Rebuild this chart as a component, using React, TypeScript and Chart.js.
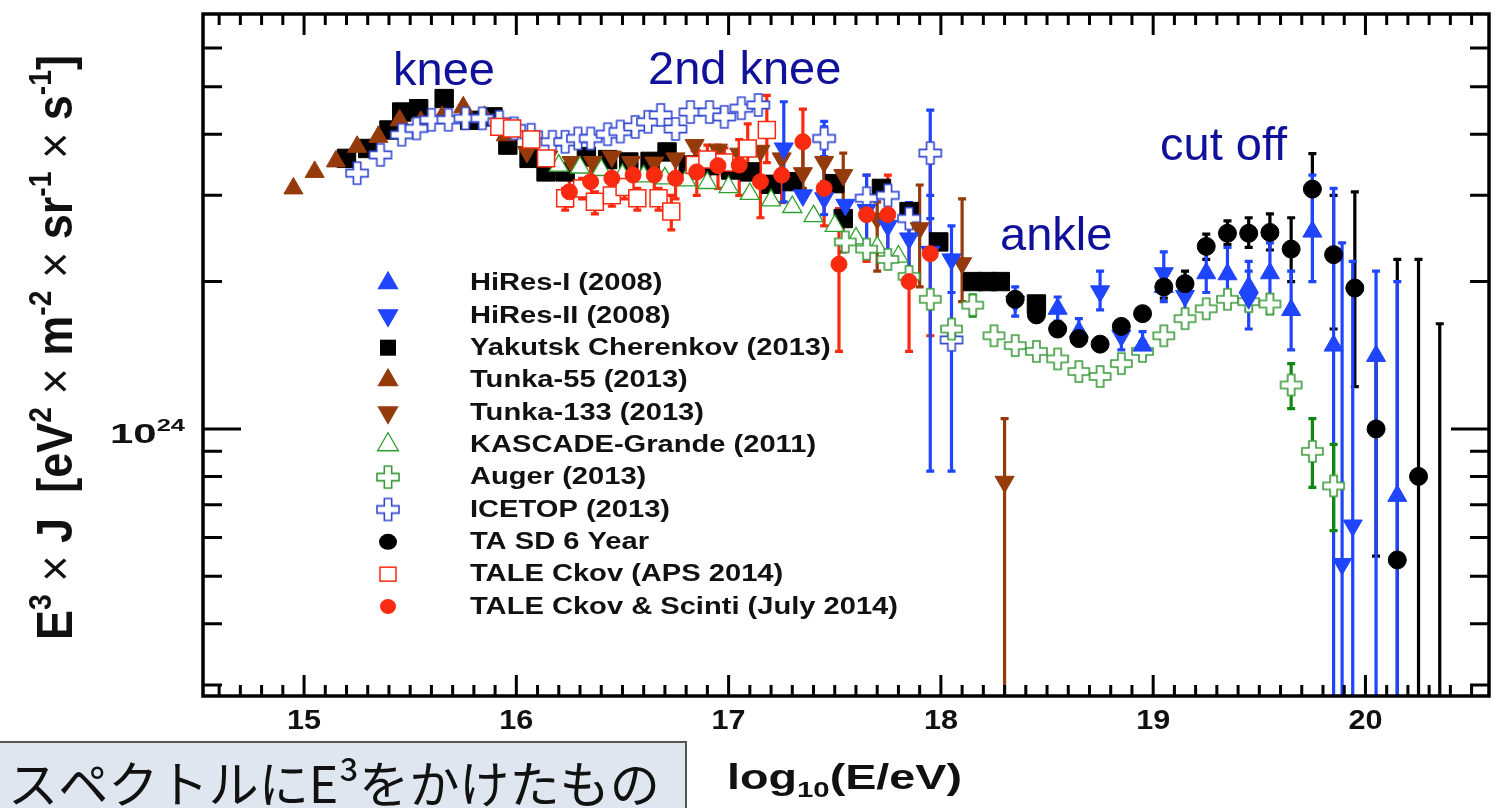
import { useEffect, useRef } from "react";
import { Chart, registerables } from "chart.js";
Chart.register(...registerables);

// x = log10(E/eV), y = E^3 J in units of 1e24 eV^2 m^-2 sr^-1 s^-1
const tunka55X = [14.95, 15.05, 15.15, 15.25, 15.35, 15.45, 15.55, 15.65, 15.75, 15.85, 15.95];
const tunka55Y = [3.10, 3.35, 3.52, 3.77, 3.95, 4.27, 4.24, 4.34, 4.54, 4.34, 3.98];

const yakutskX = [15.2, 15.3, 15.4, 15.46, 15.54, 15.66, 15.78, 15.89, 15.96, 16.06, 16.14, 16.23, 16.33, 16.43, 16.53, 16.63, 16.71, 16.81, 16.91, 17.01, 17.1, 17.2, 17.3, 17.5, 17.54, 17.72, 17.85, 17.99, 18.15, 18.22, 18.28, 18.45];
const yakutskY = [3.57, 3.74, 4.08, 4.44, 4.51, 4.73, 4.27, 4.34, 3.80, 3.57, 3.35, 3.35, 3.60, 3.55, 3.51, 3.52, 3.68, 3.46, 3.45, 3.38, 3.35, 3.16, 3.2, 3.17, 2.69, 3.10, 2.78, 2.41, 2.0, 2.0, 2.0, 1.80];

const icetopX = [15.25, 15.36, 15.46, 15.53, 15.60, 15.68, 15.76, 15.84, 15.92, 15.99, 16.07, 16.17, 16.23, 16.29, 16.35, 16.43, 16.49, 16.56, 16.62, 16.68, 16.75, 16.82, 16.91, 16.98, 17.06, 17.14, 17.45, 17.65, 17.75, 17.85, 17.95, 18.05];
const icetopY = [3.33, 3.63, 3.99, 4.11, 4.28, 4.28, 4.31, 4.31, 4.24, 4.11, 3.99, 3.86, 3.86, 3.92, 3.92, 4.0, 4.05, 4.14, 4.24, 4.38, 4.1, 4.44, 4.44, 4.34, 4.52, 4.59, 3.92, 2.96, 3.0, 2.69, 3.66, 1.52];
const icetopLo = [null, null, null, null, null, null, null, null, null, null, null, null, null, null, null, null, null, null, null, null, null, null, null, null, null, null, 3.6, null, null, null, 2.69, 0.82];
const icetopHi = [null, null, null, null, null, null, null, null, null, null, null, null, null, null, null, null, null, null, null, null, null, null, null, null, null, null, 4.25, null, null, null, 4.48, 2.2];

const kascadeX = [16.2, 16.3, 16.4, 16.5, 16.6, 16.7, 16.8, 16.9, 17.0, 17.1, 17.2, 17.3, 17.4, 17.5, 17.6, 17.7, 17.8];
const kascadeY = [3.45, 3.42, 3.38, 3.3, 3.28, 3.25, 3.22, 3.18, 3.12, 3.02, 2.93, 2.84, 2.72, 2.6, 2.45, 2.35, 2.25];

const tunka133X = [16.05, 16.15, 16.26, 16.36, 16.45, 16.54, 16.65, 16.75, 16.84, 16.95, 17.05, 17.15, 17.25, 17.35, 17.45, 17.54, 17.70, 17.90, 18.10, 18.30];
const tunka133Y = [3.68, 3.6, 3.51, 3.51, 3.60, 3.51, 3.5, 3.57, 3.80, 3.72, 3.65, 3.70, 3.57, 3.33, 3.51, 3.30, 2.69, 2.57, 2.18, 0.78];
const tunka133Lo = [null, null, null, null, null, null, null, null, null, null, null, null, null, 3.1, 3.2, 2.3, 2.1, 1.95, 1.82, 0.2];
const tunka133Hi = [null, null, null, null, null, null, null, null, 4.1, 4.1, null, null, null, 3.8, 3.9, 3.66, 2.91, 3.15, 2.95, 1.05];

const augerX = [17.55, 17.65, 17.75, 17.85, 17.95, 18.05, 18.15, 18.25, 18.35, 18.45, 18.55, 18.65, 18.75, 18.85, 18.95, 19.05, 19.15, 19.25, 19.35, 19.45, 19.55, 19.65, 19.75, 19.85];
const augerY = [2.41, 2.33, 2.22, 2.05, 1.84, 1.60, 1.79, 1.55, 1.48, 1.44, 1.39, 1.31, 1.28, 1.36, 1.44, 1.55, 1.68, 1.76, 1.84, 1.82, 1.80, 1.23, 0.90, 0.765];
const augerLo = [null, null, null, null, null, null, 1.7, null, null, null, null, null, null, null, null, null, null, null, null, null, 1.72, 1.1, 0.76, 0.62];
const augerHi = [null, null, null, null, null, null, 1.88, null, null, null, null, null, null, null, null, null, null, null, null, null, 1.88, 1.36, 1.05, 0.93];

const hires1X = [18.55, 18.65, 18.95, 19.05, 19.25, 19.35, 19.45, 19.55, 19.65, 19.75, 19.85, 20.05, 20.15];
const hires1Y = [1.76, 1.58, 1.48, 1.95, 2.08, 2.07, 1.95, 2.08, 1.75, 2.53, 1.48, 1.41, 0.73];
const hires1Lo = [1.66, 1.48, 1.40, 1.82, 1.9, 1.85, 1.75, 1.8, 1.45, 2.0, 0.2, 0.2, 0.2];
const hires1Hi = [1.86, 1.68, 1.58, 2.1, 2.3, 2.35, 2.2, 2.4, 2.1, 3.3, 3.1, 2.1, 2.0];

const hires2X = [17.26, 17.35, 17.45, 17.55, 17.65, 17.75, 17.85, 17.95, 18.05, 18.35, 18.75, 18.85, 19.05, 19.15, 19.45, 19.89, 19.94];
const hires2Y = [3.74, 3.0, 2.96, 2.87, 2.80, 2.6, 2.45, 2.3, 2.22, 1.82, 1.91, 1.55, 2.08, 1.87, 1.85, 0.53, 0.635];
const hires2Lo = [2.91, null, 2.74, null, 2.4, 2.2, 2.0, 0.82, 1.9, 1.7, 1.75, 1.45, 1.9, 1.7, 1.6, 0.2, 0.2];
const hires2Hi = [4.66, null, 4.14, null, 3.3, 3.1, 2.9, 3.0, 2.6, 1.95, 2.1, 1.65, 2.3, 2.05, 2.1, 2.4, 2.2];

const tasdX = [18.35, 18.45, 18.55, 18.65, 18.75, 18.85, 18.95, 19.05, 19.15, 19.25, 19.35, 19.45, 19.55, 19.65, 19.75, 19.85, 19.95, 20.05, 20.15, 20.25, 20.35];
const tasdY = [1.84, 1.71, 1.60, 1.53, 1.49, 1.62, 1.72, 1.95, 1.98, 2.36, 2.51, 2.51, 2.52, 2.33, 3.09, 2.27, 1.94, 1.0, 0.54, 0.80, 0.2];
const tasdLo = [null, null, null, null, null, null, null, 1.85, 1.88, 2.22, 2.38, 2.35, 2.32, 2.0, 2.55, 1.6, 1.22, 0.55, 0.2, 0.2, 0.2];
const tasdHi = [null, null, null, null, null, null, null, 2.05, 2.1, 2.5, 2.66, 2.7, 2.75, 2.7, 3.65, 3.0, 3.05, 1.43, 2.22, 2.22, 1.64];

const taleCkX = [15.92, 15.98, 16.07, 16.14, 16.23, 16.31, 16.37, 16.45, 16.51, 16.57, 16.67, 16.73, 16.84, 16.90, 16.98, 17.09, 17.18];
const taleCkY = [4.14, 4.11, 3.90, 3.57, 2.96, 3.10, 2.91, 3.0, 3.12, 2.96, 2.96, 2.78, 3.46, 3.55, 3.5, 3.74, 4.08];
const taleCkLo = [null, null, null, null, 2.8, 2.95, 2.75, 2.85, 2.95, 2.8, 2.8, 2.55, 3.25, 3.3, 3.3, 3.3, 3.5];
const taleCkHi = [null, null, null, null, 3.1, 3.25, 3.05, 3.15, 3.3, 3.1, 3.1, 3.0, 3.7, 3.8, 3.75, 4.2, 4.8];

const taleCsX = [16.25, 16.35, 16.45, 16.55, 16.65, 16.75, 16.85, 16.95, 17.05, 17.15, 17.25, 17.35, 17.45, 17.52, 17.65, 17.75, 17.85, 17.95];
const taleCsY = [3.05, 3.2, 3.25, 3.30, 3.30, 3.25, 3.35, 3.45, 3.46, 3.20, 3.30, 3.86, 3.10, 2.17, 2.74, 2.74, 2.0, 2.28];
const taleCsLo = [2.85, 2.95, 3.0, 3.0, 3.0, 2.95, 3.0, 3.1, 3.0, 2.7, 2.9, 3.3, 2.6, 1.44, 2.2, 2.2, 1.44, 1.55];
const taleCsHi = [3.3, 3.45, 3.5, 3.6, 3.6, 3.55, 3.7, 3.8, 3.9, 3.7, 3.8, 4.5, 3.6, 2.82, 3.3, 3.3, 2.85, 3.8];

const xTickValues = [15, 16, 17, 18, 19, 20];

const legendLabels = [
  "HiRes-I (2008)", "HiRes-II (2008)", "Yakutsk Cherenkov (2013)", "Tunka-55 (2013)", "Tunka-133 (2013)",
  "KASCADE-Grande (2011)", "Auger (2013)", "ICETOP (2013)", "TA SD 6 Year", "TALE Ckov (APS 2014)", "TALE Ckov & Scinti (July 2014)",
];

const annotations = [
  { text: "knee", x: 393, y: 85 },
  { text: "2nd knee", x: 648, y: 84 },
  { text: "ankle", x: 1000, y: 250 },
  { text: "cut off", x: 1160, y: 160 },
];

const BLUE = "#1f45ff";
const BROWN = "#953a0a";
const GREEN = "#2ca02c";
const AGREEN = "#3a9a3a";
const IBLUE = "#3348d0";
const RED = "#fa2a10";
const F = "'Liberation Sans', Arial, sans-serif";

function makeCross(size: number, color: string): HTMLCanvasElement {
  const c = document.createElement("canvas");
  c.width = size + 4;
  c.height = size + 4;
  const g = c.getContext("2d")!;
  const s = size / 2, a = size / 6;
  const cx = c.width / 2, cy = c.height / 2;
  g.beginPath();
  g.moveTo(cx - a, cy - s); g.lineTo(cx + a, cy - s); g.lineTo(cx + a, cy - a); g.lineTo(cx + s, cy - a);
  g.lineTo(cx + s, cy + a); g.lineTo(cx + a, cy + a); g.lineTo(cx + a, cy + s); g.lineTo(cx - a, cy + s);
  g.lineTo(cx - a, cy + a); g.lineTo(cx - s, cy + a); g.lineTo(cx - s, cy - a); g.lineTo(cx - a, cy - a);
  g.closePath();
  g.fillStyle = "#fff";
  g.fill();
  g.lineWidth = 1.6;
  g.strokeStyle = color;
  g.stroke();
  return c;
}

function pts(xs: number[], ys: number[]) {
  return xs.map((x, i) => ({ x, y: ys[i] }));
}

type Run = { t: string; s?: "sup" | "sub"; bold?: boolean };

function runFont(r: Run, size: number) {
  return `${r.bold === false ? "" : "bold "}${r.s ? Math.round(size * 0.62) : size}px ${F}`;
}
function measureRuns(ctx: CanvasRenderingContext2D, runs: Run[], size: number) {
  let total = 0;
  runs.forEach((r) => { ctx.font = runFont(r, size); total += ctx.measureText(r.t).width; });
  return total;
}
// draws runs so that the whole string spans `width` px (horizontal stretch), starting at x0
function drawRunsFit(ctx: CanvasRenderingContext2D, runs: Run[], size: number, x0: number, y: number, width: number) {
  const total = measureRuns(ctx, runs, size);
  const sx = width / total;
  ctx.save();
  ctx.translate(x0, y);
  ctx.scale(sx, 1);
  let cx = 0;
  runs.forEach((r) => {
    ctx.font = runFont(r, size);
    const dy = r.s === "sup" ? -size * 0.42 : r.s === "sub" ? size * 0.24 : 0;
    ctx.fillText(r.t, cx, dy);
    cx += ctx.measureText(r.t).width;
  });
  ctx.restore();
}

export default function App() {
  const ref = useRef<HTMLCanvasElement | null>(null);
  useEffect(() => {
    const canvas = ref.current!;
    const icetopCross = makeCross(22, IBLUE);
    const augerCross = makeCross(21, AGREEN);
    const legendIce = makeCross(22, IBLUE);
    const legendAug = makeCross(22, AGREEN);

    const mk = (label: string, xs: number[], ys: number[], style: any, lo?: (number | null)[], hi?: (number | null)[], errColor?: string): any => ({
      label, data: pts(xs, ys), showLine: false, errLo: lo, errHi: hi, errColor, ...style,
    });

    const datasets: any[] = [
      mk("TALE Ckov & Scinti (July 2014)", taleCsX, taleCsY, { pointStyle: "circle", pointRadius: 8, backgroundColor: RED, borderColor: RED, borderWidth: 1 }, taleCsLo, taleCsHi, RED),
      mk("TALE Ckov (APS 2014)", taleCkX, taleCkY, { pointStyle: "rect", pointRadius: 12, backgroundColor: "#fff", borderColor: RED, borderWidth: 1.5 }, taleCkLo, taleCkHi, RED),
      mk("TA SD 6 Year", tasdX, tasdY, { pointStyle: "circle", pointRadius: 9, backgroundColor: "#000", borderColor: "#000", borderWidth: 1 }, tasdLo, tasdHi, "#000"),
      mk("HiRes-I (2008)", hires1X, hires1Y, { pointStyle: "triangle", pointRadius: 11, backgroundColor: BLUE, borderColor: BLUE, borderWidth: 1 }, hires1Lo, hires1Hi, BLUE),
      mk("HiRes-II (2008)", hires2X, hires2Y, { pointStyle: "triangle", pointRotation: 180, pointRadius: 11, backgroundColor: BLUE, borderColor: BLUE, borderWidth: 1 }, hires2Lo, hires2Hi, BLUE),
      mk("Auger (2013)", augerX, augerY, { pointStyle: augerCross, pointRadius: 10 }, augerLo, augerHi, "#118811"),
      mk("KASCADE-Grande (2011)", kascadeX, kascadeY, { pointStyle: "triangle", pointRadius: 11, backgroundColor: "#fff", borderColor: GREEN, borderWidth: 1.3 }),
      mk("Tunka-133 (2013)", tunka133X, tunka133Y, { pointStyle: "triangle", pointRotation: 180, pointRadius: 11, backgroundColor: BROWN, borderColor: BROWN, borderWidth: 1 }, tunka133Lo, tunka133Hi, BROWN),
      mk("ICETOP (2013)", icetopX, icetopY, { pointStyle: icetopCross, pointRadius: 11 }, icetopLo, icetopHi, BLUE),
      mk("Tunka-55 (2013)", tunka55X, tunka55Y, { pointStyle: "triangle", pointRadius: 11, backgroundColor: BROWN, borderColor: BROWN, borderWidth: 1 }),
      mk("Yakutsk Cherenkov (2013)", yakutskX, yakutskY, { pointStyle: "rect", pointRadius: 13, backgroundColor: "#000", borderColor: "#000", borderWidth: 1 }),
    ];

    const errorBars = {
      id: "errorBars",
      beforeDatasetsDraw(chart: any) {
        const { ctx, chartArea, scales } = chart;
        ctx.save();
        ctx.beginPath();
        ctx.rect(chartArea.left, chartArea.top, chartArea.right - chartArea.left, chartArea.bottom - chartArea.top);
        ctx.clip();
        chart.data.datasets.forEach((ds: any) => {
          if (!ds.errLo) return;
          ctx.strokeStyle = ds.errColor;
          ctx.lineWidth = 3.2;
          ds.data.forEach((p: any, i: number) => {
            const lo = ds.errLo[i], hi = ds.errHi[i];
            if (lo == null || hi == null) return;
            const px = scales.x.getPixelForValue(p.x);
            const y1 = scales.y.getPixelForValue(lo);
            const y2 = scales.y.getPixelForValue(hi);
            ctx.beginPath();
            ctx.moveTo(px, y1); ctx.lineTo(px, y2);
            ctx.moveTo(px - 4, y1); ctx.lineTo(px + 4, y1);
            ctx.moveTo(px - 4, y2); ctx.lineTo(px + 4, y2);
            ctx.stroke();
          });
        });
        ctx.restore();
      },
    };

    const legendMarker = (ctx: CanvasRenderingContext2D, i: number, x: number, y: number) => {
      const tri = (r: number, down: boolean, fill: string, stroke: string) => {
        const s = down ? -1 : 1;
        ctx.beginPath();
        ctx.moveTo(x, y - s * r);
        ctx.lineTo(x + 0.866 * r, y + s * 0.5 * r);
        ctx.lineTo(x - 0.866 * r, y + s * 0.5 * r);
        ctx.closePath();
        ctx.fillStyle = fill; ctx.fill();
        ctx.strokeStyle = stroke; ctx.lineWidth = 1.3; ctx.stroke();
      };
      switch (i) {
        case 0: tri(11, false, BLUE, BLUE); break;
        case 1: tri(11, true, BLUE, BLUE); break;
        case 2: ctx.fillStyle = "#000"; ctx.fillRect(x - 8, y - 8, 16, 16); break;
        case 3: tri(11, false, BROWN, BROWN); break;
        case 4: tri(11, true, BROWN, BROWN); break;
        case 5: tri(12, false, "#fff", GREEN); break;
        case 6: ctx.drawImage(legendAug, x - legendAug.width / 2, y - legendAug.height / 2); break;
        case 7: ctx.drawImage(legendIce, x - legendIce.width / 2, y - legendIce.height / 2); break;
        case 8: ctx.fillStyle = "#000"; ctx.beginPath(); ctx.ellipse(x, y, 9, 8, 0, 0, Math.PI * 2); ctx.fill(); break;
        case 9: ctx.strokeStyle = RED; ctx.lineWidth = 1.5; ctx.fillStyle = "#fff"; ctx.fillRect(x - 8, y - 7, 16, 14); ctx.strokeRect(x - 8, y - 7, 16, 14); break;
        case 10: ctx.fillStyle = RED; ctx.beginPath(); ctx.ellipse(x, y, 8, 7.5, 0, 0, Math.PI * 2); ctx.fill(); break;
      }
    };

    const decor = {
      id: "decor",
      afterDraw(chart: any) {
        const { ctx, chartArea: a, scales } = chart;
        const xs = scales.x, ys = scales.y;
        ctx.save();
        ctx.strokeStyle = "#000";
        ctx.lineWidth = 3;
        ctx.beginPath();
        for (let k = 146; k <= 205; k++) {
          const v = k / 10;
          const px = xs.getPixelForValue(v);
          const major = k % 10 === 0;
          const len = major ? 21 : 11;
          ctx.moveTo(px, a.bottom); ctx.lineTo(px, a.bottom - len);
          ctx.moveTo(px, a.top); ctx.lineTo(px, a.top + len);
        }
        const yv = [0.3, 0.4, 0.5, 0.6, 0.7, 0.8, 0.9, 1, 2, 3, 4, 5, 6, 7];
        yv.forEach((v) => {
          const py = ys.getPixelForValue(v);
          if (py < a.top + 3 || py > a.bottom - 3) return;
          const len = v === 1 ? 38 : 19;
          ctx.moveTo(a.left, py); ctx.lineTo(a.left + len, py);
          ctx.moveTo(a.right, py); ctx.lineTo(a.right - len, py);
        });
        ctx.stroke();
        ctx.lineWidth = 3.5;
        ctx.strokeRect(a.left, a.top, a.right - a.left, a.bottom - a.top);

        ctx.fillStyle = "#111";
        ctx.textBaseline = "alphabetic";
        ctx.textAlign = "left";

        xTickValues.forEach((v) => {
          const px = xs.getPixelForValue(v);
          drawRunsFit(ctx, [{ t: String(v) }], 28, px - 17, 729, 34);
        });

        drawRunsFit(ctx, [{ t: "10" }, { t: "24", s: "sup" }], 28, 110, ys.getPixelForValue(1) + 14, 75);

        ctx.save();
        ctx.translate(72, 640);
        ctx.rotate(-Math.PI / 2);
        ctx.scale(1, 1.15);
        const yRuns: Run[] = [
          { t: "E" }, { t: "3", s: "sup" }, { t: " × ", bold: false }, { t: "J  [eV" }, { t: "2", s: "sup" }, { t: " × ", bold: false },
          { t: "m" }, { t: "-2", s: "sup" }, { t: " × ", bold: false }, { t: "sr" }, { t: "-1", s: "sup" }, { t: " × ", bold: false },
          { t: "s" }, { t: "-1", s: "sup" }, { t: "]" },
        ];
        drawRunsFit(ctx, yRuns, 43, 0, 0, 585);
        ctx.restore();

        drawRunsFit(ctx, [{ t: "log" }, { t: "10", s: "sub" }, { t: "(E/eV)" }], 35, 727, 789, 235);

        ctx.fillStyle = "#10109a";
        ctx.font = `47px ${F}`;
        annotations.forEach((n) => ctx.fillText(n.text, n.x, n.y));

        ctx.textBaseline = "middle";
        const lsize = 23;
        ctx.font = `bold ${lsize}px ${F}`;
        const longest = Math.max(...legendLabels.map((l) => ctx.measureText(l).width));
        const lsx = 428 / longest;
        legendLabels.forEach((lab, i) => {
          const y = 283 + i * 32.35;
          legendMarker(ctx, i, 388, y);
          ctx.fillStyle = "#111";
          ctx.save();
          ctx.translate(470, y + 1);
          ctx.scale(lsx, 1);
          ctx.font = `bold ${lsize}px ${F}`;
          ctx.fillText(lab, 0, 0);
          ctx.restore();
        });

        ctx.fillStyle = "#dfe6f0";
        ctx.fillRect(-2, 742, 688, 80);
        ctx.strokeStyle = "#555";
        ctx.lineWidth = 2;
        ctx.strokeRect(-2, 742, 688, 80);
        ctx.fillStyle = "#111";
        ctx.textBaseline = "alphabetic";
        const jp = "スペクトルにE³をかけたもの";
        let fs = 46;
        ctx.font = `${fs}px 'Noto Sans CJK JP'`;
        const w = ctx.measureText(jp).width;
        fs = fs * 652 / w;
        ctx.font = `${fs}px 'Noto Sans CJK JP'`;
        ctx.fillText(jp, 8, 803);
        ctx.restore();
      },
    };

    const chart = new Chart(canvas, {
      type: "scatter",
      data: { datasets },
      options: {
        responsive: false,
        animation: false,
        devicePixelRatio: 1,
        layout: { padding: { top: 12, right: 8, left: 0, bottom: 0 } },
        plugins: { legend: { display: false }, tooltip: { enabled: false } },
        scales: {
          x: {
            type: "linear", min: 14.524, max: 20.582,
            grid: { display: false, drawTicks: false }, border: { display: false },
            ticks: { display: false },
            afterBuildTicks: (s: any) => { s.ticks = xTickValues.map((v) => ({ value: v })); },
            afterFit: (s: any) => { s.height = 112; },
          },
          y: {
            type: "logarithmic", min: 0.2848, max: 7.04,
            grid: { display: false, drawTicks: false }, border: { display: false },
            ticks: { display: false },
            afterFit: (s: any) => { s.width = 203; },
          },
        },
      } as any,
      plugins: [errorBars, decor],
    });
    return () => chart.destroy();
  }, []);
  return (
    <div style={{ position: "absolute", left: 0, top: 0, width: 1503, height: 808, background: "#fff" }}>
      <canvas ref={ref} width={1503} height={808} style={{ display: "block" }} />
    </div>
  );
}
